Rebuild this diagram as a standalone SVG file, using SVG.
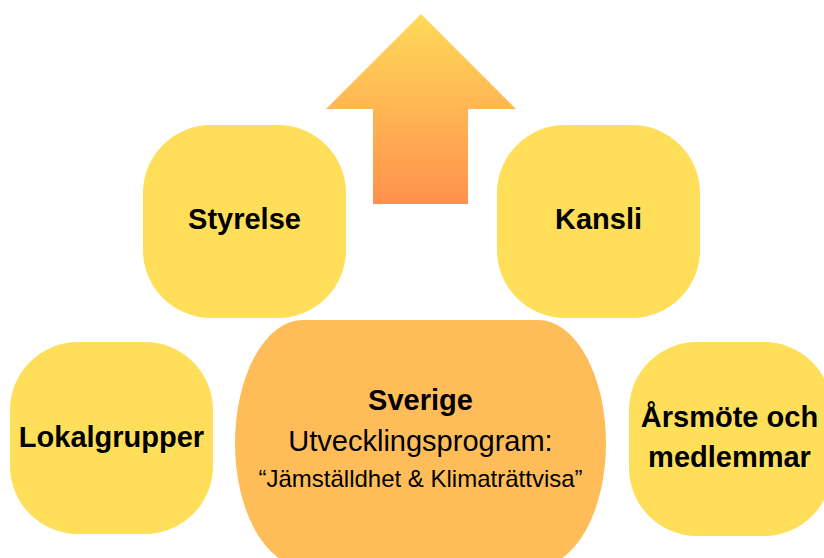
<svg xmlns="http://www.w3.org/2000/svg" width="824" height="558" viewBox="0 0 824 558">
<defs>
<linearGradient id="ag" x1="0" y1="0" x2="0" y2="1">
<stop offset="0" stop-color="#FFDA59"/>
<stop offset="1" stop-color="#FF914D"/>
</linearGradient>
<style>
.n{fill:#FFDE59}
.b{font-family:"Liberation Sans",Arial,sans-serif;font-weight:bold;font-size:29px;fill:#000;text-anchor:middle}
.r{font-family:"Liberation Sans",Arial,sans-serif;font-size:29px;fill:#000;text-anchor:middle}
</style>
</defs>
<rect width="824" height="558" fill="#fff"/>
<g id="connectors">
<polygon points="421,14 516,109 468,109 468,204 373,204 373,109 326,109" fill="url(#ag)"/>
</g>
<g id="styrelse">
<rect class="n" x="143" y="125" width="203" height="193" rx="68" ry="68"/>
<text class="b" x="244.5" y="229">Styrelse</text>
</g>
<g id="kansli">
<rect class="n" x="497" y="125" width="203" height="193" rx="68" ry="68"/>
<text class="b" x="598.5" y="229">Kansli</text>
</g>
<g id="lokalgrupper">
<rect class="n" x="10" y="342" width="203" height="192" rx="68" ry="68"/>
<text class="b" x="111.5" y="447">Lokalgrupper</text>
</g>
<g id="arsmote">
<rect class="n" x="629" y="342" width="203" height="194" rx="68" ry="68"/>
<text class="b" x="729.5" y="427">Årsmöte och</text>
<text class="b" x="729.5" y="467">medlemmar</text>
</g>
<g id="sverige">
<rect x="235" y="320" width="371" height="246" rx="68" ry="123" fill="#FFBD59"/>
<text class="b" x="420.5" y="410">Sverige</text>
<text class="r" x="420.5" y="451">Utvecklingsprogram:</text>
<text class="r" x="420.5" y="487" style="font-size:24px">“Jämställdhet &amp; Klimaträttvisa”</text>
</g>
</svg>
